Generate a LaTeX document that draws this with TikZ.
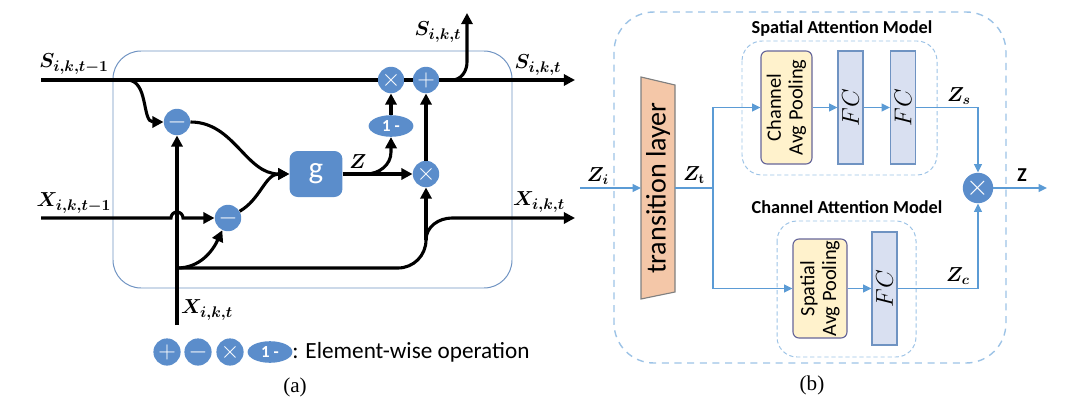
\documentclass[tikz,border=0pt]{standalone}
\usepackage{fontspec}
\setsansfont{Carlito}
\newfontfamily\capfont{Liberation Serif}
\usepackage{bm}
\usetikzlibrary{arrows.meta, positioning, shapes.geometric}
\definecolor{opblue}{HTML}{5B8DCB}
\definecolor{lineblue}{HTML}{5B9BD5}
\definecolor{dashblue}{HTML}{9DC3E6}
\definecolor{cellline}{HTML}{6F93C2}
\definecolor{peach}{HTML}{F4C7A8}
\definecolor{cream}{HTML}{FFF2CC}
\definecolor{lavender}{HTML}{D9E0F1}
\tikzset{>={Triangle[length=8pt,width=8pt]}, % filled arrow heads of the cell
wire/.style={line width=2.2pt}, % the thick black lines of panel (a)
op/.style={circle, fill=opblue, text=white, inner sep=0pt, minimum size=6.6mm, font=\fontsize{17}{17}\selectfont}, % element-wise operations
onem/.style={ellipse, fill=opblue, text=white, inner sep=0pt, minimum width=11.2mm, minimum height=5.4mm, font=\sffamily\bfseries\fontsize{12}{12}\selectfont}, % the 1- operation
gate/.style={rectangle, rounded corners=2mm, fill=opblue, text=white, minimum width=13.2mm, minimum height=11.5mm, font=\sffamily\fontsize{22}{22}\selectfont},
lbl/.style={font=\fontsize{15}{17}\selectfont}, % bold math labels
flowb/.style={draw=lineblue, line width=1.3pt, ->, >={Triangle[length=6pt,width=5.5pt]}}, % blue arrows of panel (b)
pool/.style={draw=gray!80!blue, fill=cream, rounded corners=1.5mm, line width=0.8pt, inner sep=0pt},
pooltext/.style={rotate=90, align=center, font=\sffamily\fontsize{14.5}{15.5}\selectfont},
fc/.style={draw=cellline, fill=lavender, line width=0.8pt, inner sep=0pt, minimum width=6.25mm, minimum height=28.25mm, font=\fontsize{16}{16}\selectfont},
title/.style={font=\sffamily\bfseries\fontsize{13}{15}\selectfont},
caption/.style={font=\capfont\fontsize{15}{17}\selectfont},
}

\begin{document}
\begin{tikzpicture}[x=0.25mm, y=-0.25mm]
\useasboundingbox (0,0) rectangle (1080,400);

% ---- panel (a): the cell ----
\draw[cellline, line width=0.7pt, rounded corners=7mm] (113,51) rectangle (512,288);

\node[op] (mul1) at (391,80) {$\times$};
\node[op] (add) at (426,80) {$+$};
\node[op] (sub1) at (177,122) {$-$};
\node[op] (sub2) at (228,218) {$-$};
\node[op] (mul2) at (426,174) {$\times$};
\node[onem] (onem) at (391,126) {1 -};
\node[gate] (g) at (316,174) {g};

\coordinate (sin) at (41,80);
\coordinate (sout) at (575,80);
\coordinate (sfork) at (127,80);
\coordinate (sabove) at (467,13);
\coordinate (xprev) at (41,218);
\coordinate (xin) at (177,325);
\coordinate (xfork) at (177,268);
\coordinate (xout) at (575,218);
\coordinate (zfork) at (366,174);
\coordinate (join) at (426,240);

\draw[wire] (sin) -- (mul1);
\draw[wire] (mul1) -- (add);
\draw[wire,->] (add) -- (sout);
\draw[wire,->] (add.east) -- (452,80) to[out=0,in=-90] (467,62) -- (sabove);
\draw[wire,->] (sfork) to[out=0,in=180] (sub1.west);
\draw[wire,->] (xin) -- (sub1);
\draw[wire,->] (xprev) -- (171,218) arc[start angle=180, end angle=0, radius=1.5mm] -- (sub2);
\draw[wire,->] (xfork) to[out=0,in=-115] (sub2);
\draw[wire,->] (sub1.east) to[out=0,in=180] (g.west);
\draw[wire,->] (sub2.30) to[out=30,in=180] (g.west);
\draw[wire,->] (g) -- (mul2);
\draw[wire,->] (zfork) to[out=0,in=-90] (391,152) -- (onem);
\draw[wire,->] (onem) -- (mul1);
\draw[wire] (xfork) -- (398,268) to[out=0,in=-90] (join);
\draw[wire,->] (join) -- (mul2);
\draw[wire,->] (join) to[out=90,in=180] (452,218) -- (xout);
\draw[wire,->] (mul2) -- (add);

\node[lbl] at (74,64) {$\bm{S_{i,k,t-1}}$};
\node[lbl] at (74,203) {$\bm{X_{i,k,t-1}}$};
\node[lbl] at (438,32) {$\bm{S_{i,k,t}}$};
\node[lbl] at (538,65) {$\bm{S_{i,k,t}}$};
\node[lbl] at (539,202) {$\bm{X_{i,k,t}}$};
\node[lbl] at (207,310) {$\bm{X_{i,k,t}}$};
\node[lbl] at (358,162) {$\bm{Z}$};

% legend
\node[op, minimum size=6.8mm] (lgadd) at (167,352) {$+$};
\node[op, minimum size=6.8mm] (lgsub) at (198,352) {$-$};
\node[op, minimum size=6.8mm] (lgmul) at (230,352) {$\times$};
\node[onem] (lgone) at (270,352) {1 -};
\node[font=\sffamily\fontsize{16.5}{18}\selectfont, anchor=west, inner sep=0pt] (lgtext) at (292,352) {: Element-wise operation};
\node[caption] (capa) at (295,387) {(a)};

% ---- panel (b): attention ----
\draw[dashblue, line width=1pt, dashed, dash pattern=on 5pt off 4pt, rounded corners=10mm] (614,12) rectangle (1006,363);
\draw[dashblue, line width=0.7pt, dashed, dash pattern=on 3pt off 2pt, rounded corners=5mm] (742,41) rectangle (937,175);
\draw[dashblue, line width=0.7pt, dashed, dash pattern=on 3pt off 2pt, rounded corners=5mm] (777,221) rectangle (916,357);
\node[title] at (842,29) {Spatial Attention Model};
\node[title] at (847,207) {Channel Attention Model};

\draw[draw=gray, fill=peach, line width=0.8pt] (641,77) -- (675,85) -- (675,292) -- (641,299) -- cycle;
\node[font=\sffamily\fontsize{20}{20}\selectfont, rotate=90] (trans) at (658,188) {transition layer};
\coordinate (tin) at (641,188);
\coordinate (tout) at (675,188);
\coordinate (zin) at (580,188);
\coordinate (tsplit) at (713,188);
\coordinate (zout) at (1047,188);

\node[pool, minimum width=12.75mm, minimum height=28.25mm] (cap) at (786.5,107.5) {};
\node[pooltext] at (cap) {Channel\\Avg Pooling};
\node[fc] (fc1) at (850.5,107.5) {\rotatebox{90}{$FC$}};
\node[fc] (fc2) at (903,107.5) {\rotatebox{90}{$FC$}};
\node[pool, minimum width=13.5mm, minimum height=24.75mm] (sap) at (820,288.5) {};
\node[pooltext] at (sap) {Spatial\\Avg Pooling};
\node[fc] (fc3) at (884.5,288.5) {\rotatebox{90}{$FC$}};
\node[op, minimum size=7.6mm, font=\fontsize{20}{20}\selectfont] (mulb) at (978,188) {$\times$};

\draw[flowb] (zin) -- (tin);
\draw[draw=lineblue, line width=1.3pt] (tout) -- (tsplit);
\draw[flowb] (tsplit) |- (cap);
\draw[flowb] (tsplit) |- (sap);
\draw[flowb] (cap) -- (fc1);
\draw[flowb] (fc1) -- (fc2);
\draw[flowb] (fc2) -| (mulb);
\draw[flowb] (sap) -- (fc3);
\draw[flowb] (fc3) -| (mulb);
\draw[flowb] (mulb) -- (zout);

\node[lbl, font=\fontsize{14}{16}\selectfont] at (598,176) {$\bm{Z}_{\bm{i}}$};
\node[lbl, font=\fontsize{14}{16}\selectfont] at (694,175) {$\bm{Z}_{\mathbf{t}}$};
\node[lbl, font=\fontsize{14}{16}\selectfont] at (959,96) {$\bm{Z}_{\bm{s}}$};
\node[lbl, font=\fontsize{14}{16}\selectfont] at (958,276) {$\bm{Z}_{\bm{c}}$};
\node[title, font=\sffamily\bfseries\fontsize{14}{16}\selectfont] at (1022,175) {Z};
\node[caption] (capb) at (812,385) {(b)};
\end{tikzpicture}
\end{document}
